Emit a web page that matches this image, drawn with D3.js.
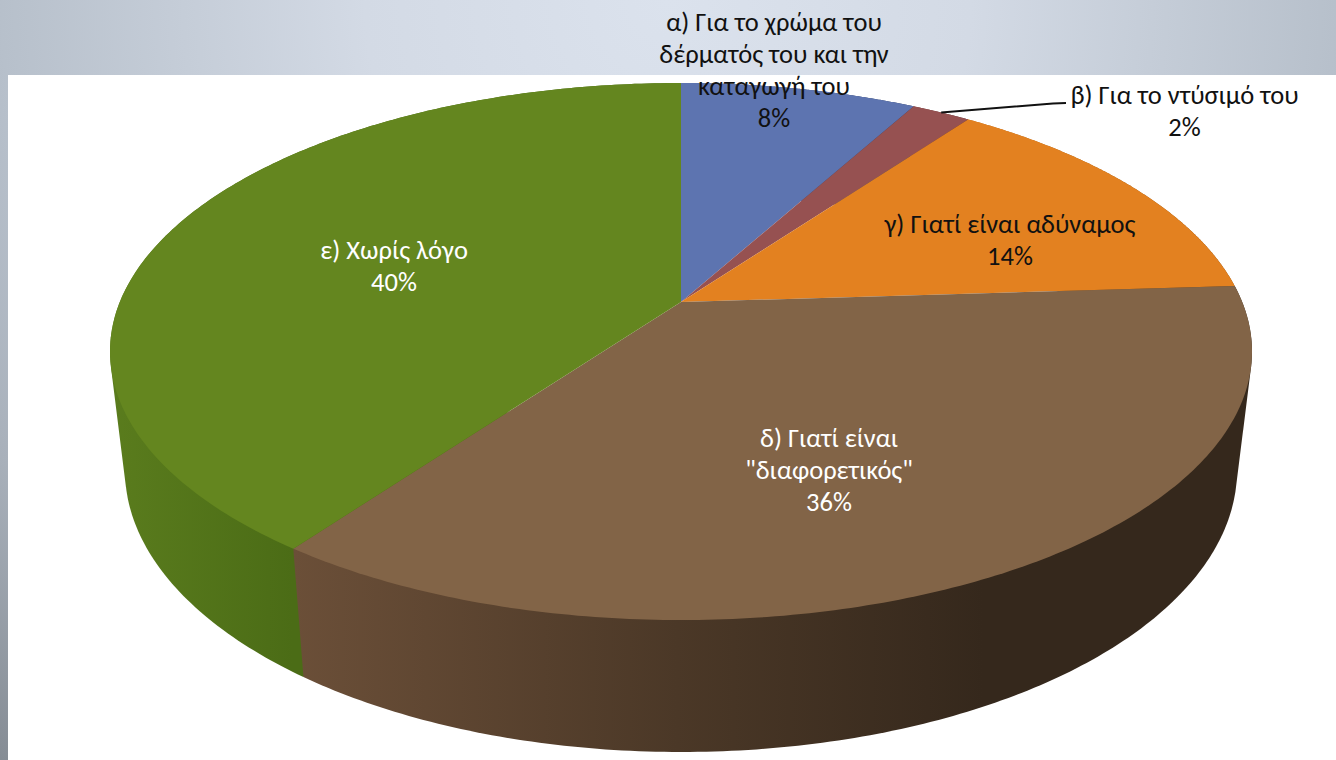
<!DOCTYPE html>
<html><head><meta charset="utf-8">
<script src="https://cdn.jsdelivr.net/npm/d3@7"></script>
<style>html,body{margin:0;padding:0;background:#fff}svg{display:block}text{font-family:Carlito,Calibri,Lato,"Open Sans","Noto Sans",sans-serif}</style>
</head><body><svg id="c" width="1336" height="760"></svg>
<script>
const categories = ["α) Για το χρώμα του δέρματός του και την καταγωγή του","β) Για το ντύσιμό του","γ) Γιατί είναι αδύναμος","δ) Γιατί είναι \"διαφορετικός\"","ε) Χωρίς λόγο"];
const values = [8,2,14,36,40];
const colors = ["#5d74b0","#965151","#e38120","#826447","#64861f"];
const wallStops = [
  [[0,"#4c5f91"],[1,"#2f3b5c"]],
  [[0,"#7b4242"],[1,"#4e2a2a"]],
  [[0,"#ba6a1a"],[1,"#75430f"]],
  [[0,"#6b4f38"],[0.4,"#4b3827"],[0.72,"#35281c"],[1,"#35281c"]],
  [[0,"#5a7c1d"],[0.32,"#4b6c16"],[1,"#4b6c16"]]
];
const labelLines = [["α) Για το χρώμα του","δέρματός του και την","καταγωγή του","8%"],["β) Για το ντύσιμό του","2%"],["γ) Γιατί είναι αδύναμος","14%"],["δ) Γιατί είναι","\"διαφορετικός\"","36%"],["ε) Χωρίς λόγο","40%"]];
const labelAnchors = [[774,22.5],[1184.5,96],[1010,225],[829,439],[394,251]];
const labelColors = ["#111","#111","#111","#fff","#fff"];

const W=1336,H=760;
const svg=d3.select("#c");
const defs=svg.append("defs");
const bg=defs.append("radialGradient").attr("id","bg").attr("gradientUnits","userSpaceOnUse")
 .attr("cx",668).attr("cy",0).attr("r",1010);
[[0,"#dbe2ed"],[0.3,"#d3dae5"],[0.66,"#b7c0cb"],[0.8,"#a8b0ba"],[1,"#858c94"]].forEach(s=>bg.append("stop").attr("offset",s[0]).attr("stop-color",s[1]));
svg.append("rect").attr("width",W).attr("height",H).attr("fill","url(#bg)");
svg.append("rect").attr("x",8).attr("y",75).attr("width",W-8).attr("height",H-75).attr("fill","#fff");

// perspective projection of the pie's circle onto the page
const face={cx:681,cy:302,b:561.2,a:259.4,k:0.1844};
const base={cx:681,cy:418,b:546.5,a:272.4,k:0.1844};
const proj=(p,t)=>{const u=Math.sin(t),v=-Math.cos(t),d=1-p.k*v;return [p.cx+p.b*u/d,p.cy+p.a*v/d];};
const arcs=d3.pie().sort(null).value(d=>d)(values);
const arcPts=(p,a)=>d3.range(0,181).map(i=>proj(p,a.startAngle+(a.endAngle-a.startAngle)*i/180));
const line=d3.line().curve(d3.curveLinear);

// side walls: swept hull between the rim and the base (only front slices show)
arcs.forEach((a,i)=>{
  const pts=arcPts(face,a).concat(arcPts(base,a));
  const xs=pts.map(d=>d[0]);
  const g=defs.append("linearGradient").attr("id","w"+i).attr("gradientUnits","userSpaceOnUse")
    .attr("x1",d3.min(xs)).attr("x2",d3.max(xs)).attr("y1",0).attr("y2",0);
  wallStops[i].forEach(s=>g.append("stop").attr("offset",s[0]).attr("stop-color",s[1]));
  a.hull=d3.polygonHull(pts);
});
[0,1,2,4,3].forEach(i=>{
  svg.append("path").attr("d",line(arcs[i].hull)+"Z").attr("fill",`url(#w${i})`);
});
// top face
arcs.forEach((a,i)=>{
  svg.append("path").attr("d",line([[face.cx,face.cy]].concat(arcPts(face,a)))+"Z").attr("fill",colors[i]);
});
// leader line for the small slice
const mid=arcs[1];
const lp=proj(face,(mid.startAngle+mid.endAngle)/2);
svg.append("path").attr("d",line([[1066,103],[1053,103.5],lp])).attr("fill","none").attr("stroke","#111").attr("stroke-width",2);
// labels
labelLines.forEach((ls,i)=>{
  const t=svg.append("text").attr("text-anchor","middle").attr("font-size",26.5).attr("fill",labelColors[i]);
  ls.forEach((s,j)=>t.append("tspan").attr("x",labelAnchors[i][0]).attr("y",labelAnchors[i][1]+8+j*32).text(s));
});
</script></body></html>
